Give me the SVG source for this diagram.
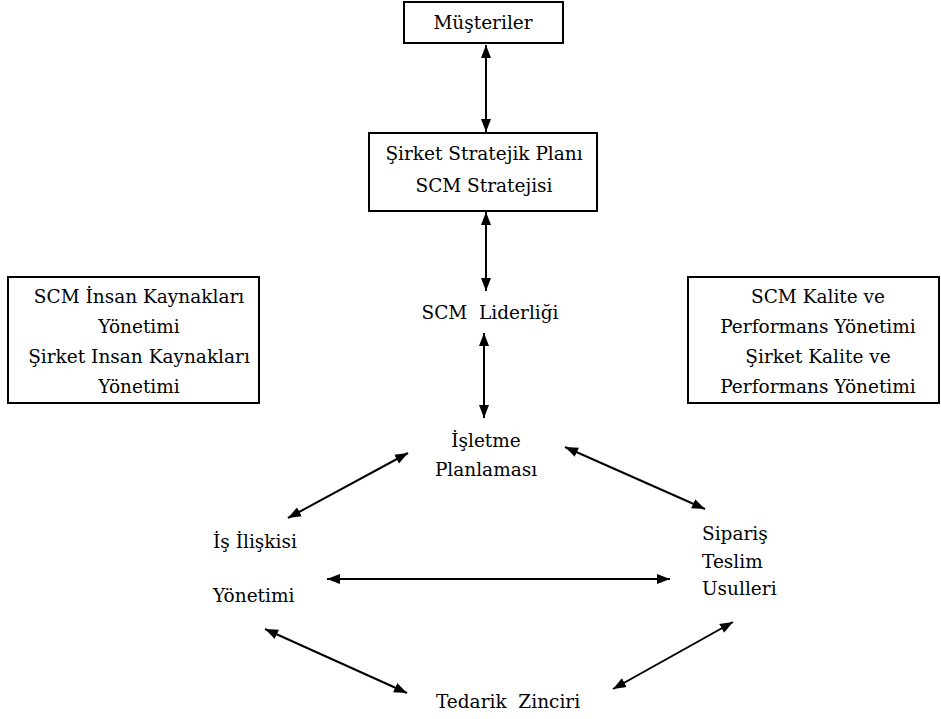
<svg xmlns="http://www.w3.org/2000/svg" width="941" height="719" viewBox="0 0 941 719">
<style>
text{font-family:"DejaVu Serif",serif;font-size:18.5px;fill:#000}
.c{text-anchor:middle}
.pre{white-space:pre}
.box{fill:#fff;stroke:#000;stroke-width:2}
.ln{stroke:#000;stroke-width:2;fill:none;marker-start:url(#ah);marker-end:url(#ah)}
</style>
<defs>
<marker id="ah" markerUnits="userSpaceOnUse" markerWidth="14" markerHeight="12" refX="13" refY="5" orient="auto-start-reverse" viewBox="0 0 14 10">
<path d="M0,0 L13,5 L0,10 z" fill="#000"/>
</marker>
</defs>
<rect width="941" height="719" fill="#fff"/>
<g id="connectors">
<line class="ln" x1="486" y1="45" x2="486" y2="132"/>
<line class="ln" x1="486" y1="212" x2="486" y2="291"/>
<line class="ln" x1="484" y1="333" x2="484" y2="418"/>
<line class="ln" x1="408" y1="453" x2="288" y2="518"/>
<line class="ln" x1="565" y1="447" x2="705" y2="509"/>
<line class="ln" x1="327" y1="579" x2="670" y2="579"/>
<line class="ln" x1="265" y1="629" x2="407" y2="693"/>
<line class="ln" x1="733" y1="622" x2="613" y2="689"/>
</g>
<g id="musteriler">
<rect class="box" x="404" y="2" width="159" height="41"/>
<text class="c" x="483" y="29">Müşteriler</text>
</g>
<g id="strateji">
<rect class="box" x="369" y="133" width="228" height="78"/>
<text class="c" x="484" y="160">Şirket Stratejik Planı</text>
<text class="c" x="484" y="192">SCM Stratejisi</text>
</g>
<g id="liderlik">
<text class="c pre" x="490" y="319" xml:space="preserve">SCM  Liderliği</text>
</g>
<g id="isletme">
<text class="c" x="486" y="447">İşletme</text>
<text class="c" x="486" y="476">Planlaması</text>
</g>
<g id="insan-kaynaklari">
<rect class="box" x="8" y="277" width="251" height="126"/>
<text class="c" x="139" y="303">SCM İnsan Kaynakları</text>
<text class="c" x="139" y="333">Yönetimi</text>
<text class="c" x="139" y="363">Şirket Insan Kaynakları</text>
<text class="c" x="139" y="393">Yönetimi</text>
</g>
<g id="kalite">
<rect class="box" x="688" y="277" width="251" height="126"/>
<text class="c" x="818" y="303">SCM Kalite ve</text>
<text class="c" x="818" y="333">Performans Yönetimi</text>
<text class="c" x="818" y="363">Şirket Kalite ve</text>
<text class="c" x="818" y="393">Performans Yönetimi</text>
</g>
<g id="is-iliskisi">
<text x="213" y="548">İş İlişkisi</text>
<text x="213" y="602">Yönetimi</text>
</g>
<g id="siparis">
<text x="702" y="540">Sipariş</text>
<text x="702" y="568">Teslim</text>
<text x="702" y="595">Usulleri</text>
</g>
<g id="tedarik">
<text class="c pre" x="508" y="708" xml:space="preserve">Tedarik  Zinciri</text>
</g>
</svg>
